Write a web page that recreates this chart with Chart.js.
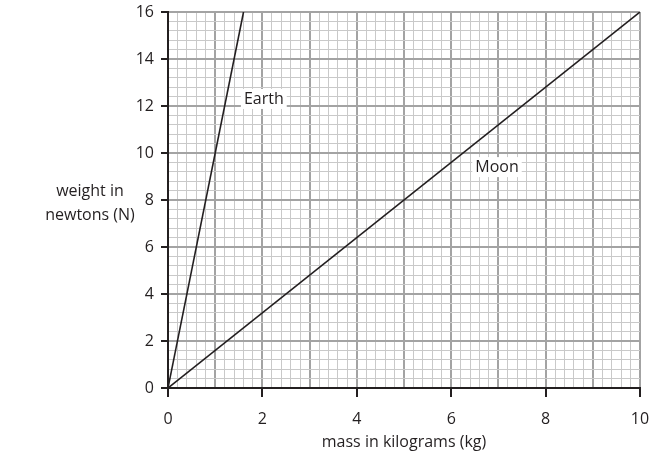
<!DOCTYPE html>
<html>
<head>
<meta charset="utf-8">
<script src="https://cdn.jsdelivr.net/npm/chart.js@4.4.0/dist/chart.umd.min.js"></script>
<style>
  html, body { margin: 0; padding: 0; background: #fff; }
  #wrap { width: 666px; height: 465px; }
</style>
</head>
<body>
<div id="wrap"><canvas id="weight-canvas"></canvas></div>
<script>
// mass (kg) -> weight (N)
const earthMass = [0, 1.6]
const earthWeight = [0, 16]
const moonMass = [0, 10]
const moonWeight = [0, 16]

const xTickLabels = [0, 2, 4, 6, 8, 10]
const yTickLabels = [0, 2, 4, 6, 8, 10, 12, 14, 16]

const lineLabels = ["Earth", "Moon"]
const lineLabelX = [2.03, 6.97]
const lineLabelY = [12.3, 9.4]

const ink = "#231f20"
const font = "'Open Sans', sans-serif"

const near = (v, list) => list.some((t) => Math.abs(v - t) < 1e-6)
const isInt = (v) => Math.abs(v - Math.round(v)) < 1e-6
const isEven = (v) => isInt(v / 2)

const toPoints = (xs, ys) => xs.map((x, i) => ({ x: x, y: ys[i] }))

// text labels on the lines and the horizontal y title
const extraText = {
  id: "extraText",
  afterDatasetsDraw(chart) {
    const ctx = chart.ctx
    const xs = chart.scales.x
    const ys = chart.scales.y
    ctx.save()
    ctx.font = "16px " + font
    ctx.textAlign = "center"
    ctx.textBaseline = "middle"
    lineLabels.forEach((txt, i) => {
      const px = xs.getPixelForValue(lineLabelX[i])
      const py = ys.getPixelForValue(lineLabelY[i])
      const w = ctx.measureText(txt).width + 6
      ctx.fillStyle = "#fff"
      ctx.fillRect(px - w / 2, py - 10, w, 20)
      ctx.fillStyle = ink
      ctx.fillText(txt, px, py)
    })
    ctx.restore()
  },
  afterDraw(chart) {
    const ctx = chart.ctx
    ctx.save()
    ctx.font = "16px " + font
    ctx.fillStyle = ink
    ctx.textAlign = "center"
    ctx.textBaseline = "middle"
    ctx.fillText("weight in", 90, 191)
    ctx.fillText("newtons (N)", 90, 215)
    ctx.restore()
  },
}

document.addEventListener("DOMContentLoaded", () => {
  const canvas = document.getElementById("weight-canvas")
  new Chart(canvas, {
    type: "line",
    data: {
      datasets: [
        {
          label: "Earth",
          data: toPoints(earthMass, earthWeight),
          borderColor: ink,
          borderWidth: 1.6,
          pointRadius: 0,
          tension: 0,
        },
        {
          label: "Moon",
          data: toPoints(moonMass, moonWeight),
          borderColor: ink,
          borderWidth: 1.6,
          pointRadius: 0,
          tension: 0,
        },
      ],
    },
    options: {
      responsive: true,
      maintainAspectRatio: false,
      animation: false,
      layout: { padding: { top: 12, right: 26, left: 0, bottom: 0 } },
      plugins: {
        legend: { display: false },
        tooltip: { enabled: false },
      },
      scales: {
        x: {
          type: "linear",
          min: 0,
          max: 10,
          afterFit: (s) => {
            s.height = 77
            s.paddingLeft = 0
            s.paddingRight = 0
          },
          border: { color: ink, width: 2, z: 1 },
          grid: {
            color: (c) => (isInt(c.tick.value) ? "#a3a3a3" : "#c9c9c9"),
            lineWidth: (c) => (isInt(c.tick.value) ? 2 : 1),
            tickColor: (c) => (near(c.tick.value, xTickLabels) ? ink : "rgba(0,0,0,0)"),
            tickWidth: 2,
            tickLength: 9,
          },
          ticks: {
            stepSize: 0.2,
            maxTicksLimit: 100,
            autoSkip: false,
            maxRotation: 0,
            padding: 13,
            color: ink,
            font: { family: font, size: 16 },
            callback: (v) => (near(v, xTickLabels) ? String(Math.round(v)) : ""),
          },
          title: {
            display: true,
            text: "mass in kilograms (kg)",
            color: ink,
            font: { family: font, size: 16 },
            padding: { top: 4, bottom: 13 },
          },
        },
        y: {
          type: "linear",
          min: 0,
          max: 16,
          afterFit: (s) => {
            s.width = 168
            s.paddingTop = 0
            s.paddingBottom = 0
          },
          border: { color: ink, width: 2, z: 1 },
          grid: {
            color: (c) => (isEven(c.tick.value) ? "#a3a3a3" : "#c9c9c9"),
            lineWidth: (c) => (isEven(c.tick.value) ? 2 : 1),
            tickColor: (c) => (near(c.tick.value, yTickLabels) ? ink : "rgba(0,0,0,0)"),
            tickWidth: 2,
            tickLength: 7,
          },
          ticks: {
            stepSize: 0.4,
            maxTicksLimit: 100,
            autoSkip: false,
            padding: 7,
            color: ink,
            font: { family: font, size: 16 },
            callback: (v) => (near(v, yTickLabels) ? String(Math.round(v)) : ""),
          },
        },
      },
    },
    plugins: [extraText],
  })
})
</script>
</body>
</html>
